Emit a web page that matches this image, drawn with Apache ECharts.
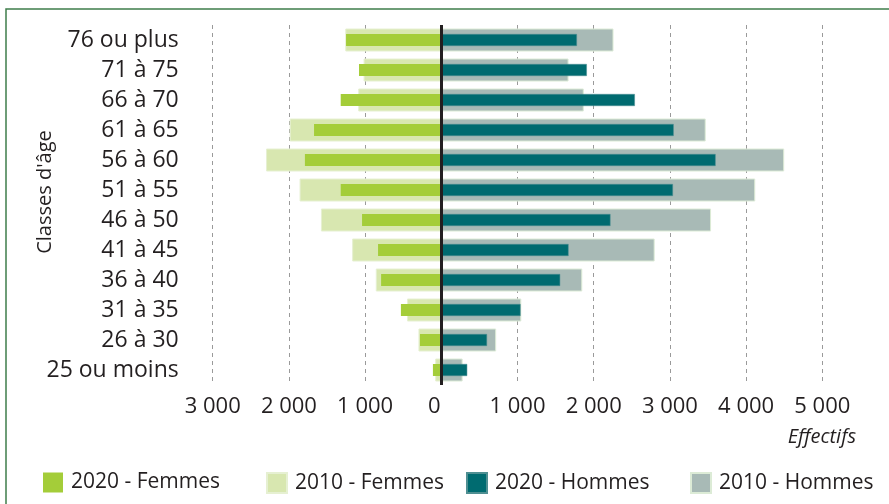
<!DOCTYPE html>
<html>
<head>
<meta charset="utf-8">
<script src="https://cdn.jsdelivr.net/npm/echarts@6/dist/echarts.min.js"></script>
<style>
html, body { margin: 0; padding: 0; background: #fff; }
#chart { width: 889px; height: 504px; }
</style>
</head>
<body>
<div id="chart"></div>
<script>
// classes d'age, du haut vers le bas
var categories = ['76 ou plus', '71 à 75', '66 à 70', '61 à 65', '56 à 60', '51 à 55',
	'46 à 50', '41 à 45', '36 à 40', '31 à 35', '26 à 30', '25 ou moins'];
var femmes2020 = [1250, 1080, 1320, 1670, 1790, 1320, 1040, 830, 790, 530, 280, 110];
var femmes2010 = [1260, 1020, 1090, 1990, 2300, 1860, 1580, 1170, 860, 450, 300, 80];
var hommes2020 = [1780, 1910, 2540, 3050, 3600, 3040, 2220, 1670, 1560, 1040, 600, 340];
var hommes2010 = [2260, 1670, 1870, 3470, 4500, 4120, 3540, 2800, 1850, 1050, 720, 280];
var xTicks = [-3000, -2000, -1000, 0, 1000, 2000, 3000, 4000, 5000];

var FONT = 'Open Sans';
var TXT = '#231f20';

function neg(arr) {
	return arr.map(function (v) { return -v; });
}
function fmt(v) {
	var a = Math.abs(v);
	if (a === 0) return '{z|0}';
	var s = String(a);
	return s.replace(/\B(?=(\d{3})+(?!\d))/g, ' ');
}

var myChart = echarts.init(document.getElementById('chart'));

var legends = [
	{ name: '2020 - Femmes', left: 38 },
	{ name: '2010 - Femmes', left: 261 },
	{ name: '2020 - Hommes', left: 461 },
	{ name: '2010 - Hommes', left: 685 }
].map(function (l) {
	return {
		data: [l.name],
		left: l.left,
		top: 467,
		icon: 'rect',
		itemWidth: 20,
		itemHeight: 20,
		selectedMode: false,
		textStyle: { fontFamily: FONT, fontSize: 21, color: TXT, padding: [0, 0, 0, 3] }
	};
});

var options = {
	animation: false,
	backgroundColor: '#fff',
	textStyle: { fontFamily: FONT },
	legend: legends,
	grid: { left: 212.7, right: 66.7, top: 25, height: 360 },
	xAxis: {
		type: 'value',
		min: xTicks[0],
		max: xTicks[xTicks.length - 1],
		interval: 1000,
		axisLine: { show: false },
		axisTick: { show: false },
		axisLabel: {
			formatter: fmt,
			fontFamily: FONT,
			fontSize: 22,
			color: TXT,
			margin: 11,
			rich: { z: { fontFamily: FONT, fontSize: 22, color: TXT, padding: [0, 14, 0, 0] } }
		},
		splitLine: { show: true, lineStyle: { color: '#9a9a9a', type: [4, 4], width: 1 } }
	},
	yAxis: [{
		type: 'category',
		data: categories,
		inverse: true,
		axisLine: { show: false, onZero: false },
		axisTick: { show: false },
		axisLabel: { fontFamily: FONT, fontSize: 23, color: TXT, margin: 34 }
	}, {
		type: 'category',
		data: categories,
		inverse: true,
		show: false
	}],
	graphic: [
		{
			type: 'rect',
			shape: { x: 6, y: 9, width: 1000, height: 700 },
			style: { fill: 'none', stroke: '#3f7d4b', lineWidth: 1.5 },
			silent: true
		},
		{
			type: 'text',
			x: 45, y: 192,
			rotation: Math.PI / 2,
			style: { text: "Classes d'âge", font: '20px "Open Sans"', fill: TXT, textAlign: 'center', textVerticalAlign: 'middle' }
		},
		{
			type: 'text',
			x: 856, y: 437,
			style: { text: 'Effectifs', font: 'italic 20px "Open Sans"', fill: TXT, textAlign: 'right', textVerticalAlign: 'middle' }
		}
	],
	series: [
		{
			name: '2010 - Femmes', type: 'bar', yAxisIndex: 0, stack: 'a2010',
			barWidth: 23, data: neg(femmes2010),
			itemStyle: { color: '#d8e7b0', borderColor: '#e6f0d2', borderWidth: 1 }
		},
		{
			name: '2010 - Hommes', type: 'bar', yAxisIndex: 0, stack: 'a2010',
			barWidth: 23, data: hommes2010,
			itemStyle: { color: '#a8bab6', borderColor: '#dcebd6', borderWidth: 1 }
		},
		{
			name: '2020 - Femmes', type: 'bar', yAxisIndex: 1, stack: 'a2020',
			barWidth: 12, data: neg(femmes2020),
			itemStyle: { color: '#a4cd39' }
		},
		{
			name: '2020 - Hommes', type: 'bar', yAxisIndex: 1, stack: 'a2020',
			barWidth: 12, data: hommes2020,
			itemStyle: { color: '#006b70', borderColor: '#4f8f92', borderWidth: 0.5 },
			markLine: {
				silent: true,
				symbol: ['none', 'none'],
				label: { show: false },
				lineStyle: { color: '#231f20', width: 3, type: 'solid' },
				data: [{ xAxis: 0 }],
				z: 10
			}
		}
	]
};
myChart.setOption(options);
</script>
</body>
</html>
